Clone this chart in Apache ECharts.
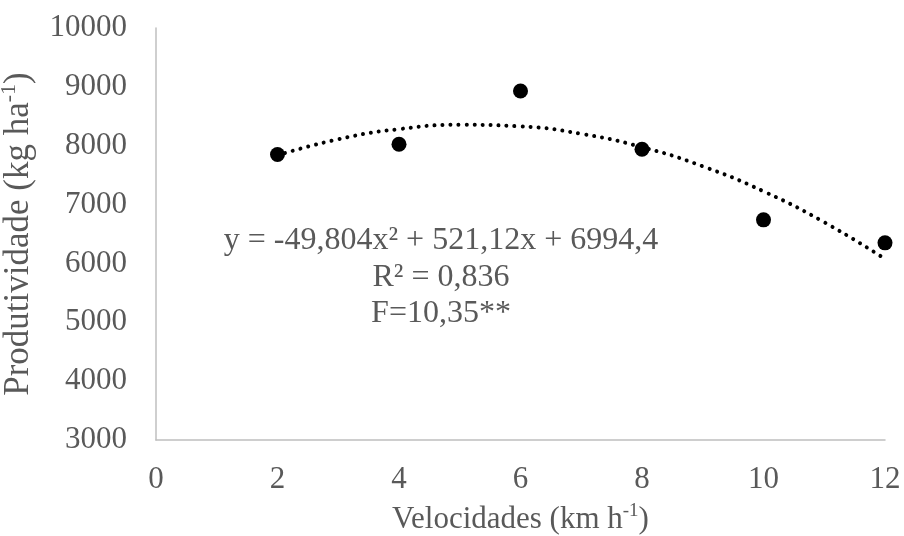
<!DOCTYPE html>
<html>
<head>
<meta charset="utf-8">
<script src="https://cdn.jsdelivr.net/npm/echarts@6/dist/echarts.min.js"></script>
<style>html,body{margin:0;padding:0;background:#fff}#c{width:904px;height:536px}</style>
</head>
<body>
<div id="c"></div>
<script>
// Observed data points
const velocidades = [2, 4, 6, 8, 10, 12];
const produtividade = [7850, 8025, 8930, 7940, 6740, 6350];
// Trend line values
const trendX = [2, 3, 4, 5, 6, 7, 8, 9, 10, 11, 12];
const trendY = [7837, 8110, 8282, 8355, 8328, 8202, 7976, 7650, 7225, 6700, 6076];
// Axis ticks
const xTicks = { min: 0, max: 12, interval: 2 };
const yTicks = { min: 3000, max: 10000, interval: 1000 };
const eqLines = ['y = -49,804x² + 521,12x + 6994,4', 'R² = 0,836', 'F=10,35**'];

const font = 'Liberation Serif, Times New Roman, serif';
const grey = '#595959';
const chart = echarts.init(document.getElementById('c'), null, { renderer: 'canvas' });
chart.setOption({
  animation: false,
  backgroundColor: '#fff',
  grid: { left: 156, right: 19, top: 28, bottom: 96, containLabel: false, outerBoundsMode: 'none' },
  xAxis: {
    type: 'value', min: xTicks.min, max: xTicks.max, interval: xTicks.interval,
    name: 'Velocidades (km h{sup|-1})', nameLocation: 'middle', nameGap: 62,
    nameTextStyle: { color: grey, fontFamily: font, fontSize: 31, lineHeight: 36,
      rich: { sup: { fontSize: 19, lineHeight: 19, verticalAlign: 'top', color: grey, fontFamily: font } } },
    axisLine: { show: true, lineStyle: { color: '#bfbfbf', width: 1.5 } },
    axisTick: { show: false },
    splitLine: { show: false },
    axisLabel: { color: grey, fontFamily: font, fontSize: 31, margin: 24, formatter: v => String(v) }
  },
  yAxis: {
    type: 'value', min: yTicks.min, max: yTicks.max, interval: yTicks.interval,
    name: 'Produtividade (kg ha{sup|-1})', nameLocation: 'middle', nameGap: 108,
    nameTextStyle: { color: grey, fontFamily: font, fontSize: 35, lineHeight: 40,
      rich: { sup: { fontSize: 22, lineHeight: 22, verticalAlign: 'top', color: grey, fontFamily: font } } },
    axisLine: { show: true, lineStyle: { color: '#bfbfbf', width: 1.5 } },
    axisTick: { show: false },
    splitLine: { show: false },
    axisLabel: { color: grey, fontFamily: font, fontSize: 31, margin: 29, formatter: v => String(v) }
  },
  series: [
    {
      type: 'line', data: trendX.map((x, i) => [x, trendY[i]]), smooth: true,
      showSymbol: false, symbol: 'none',
      lineStyle: { color: '#000', width: 4, type: [0.01, 8], cap: 'round' },
      z: 2
    },
    {
      type: 'scatter', data: velocidades.map((x, i) => [x, produtividade[i]]),
      symbol: 'circle', symbolSize: 15, itemStyle: { color: '#000', opacity: 1 }, z: 3
    }
  ],
  graphic: eqLines.map((t, i) => ({
    type: 'text', x: 441, y: [241, 278, 314][i],
    style: { text: t, fill: grey, font: '32px ' + font, textAlign: 'center', textVerticalAlign: 'middle' }
  }))
});
</script>
</body>
</html>
